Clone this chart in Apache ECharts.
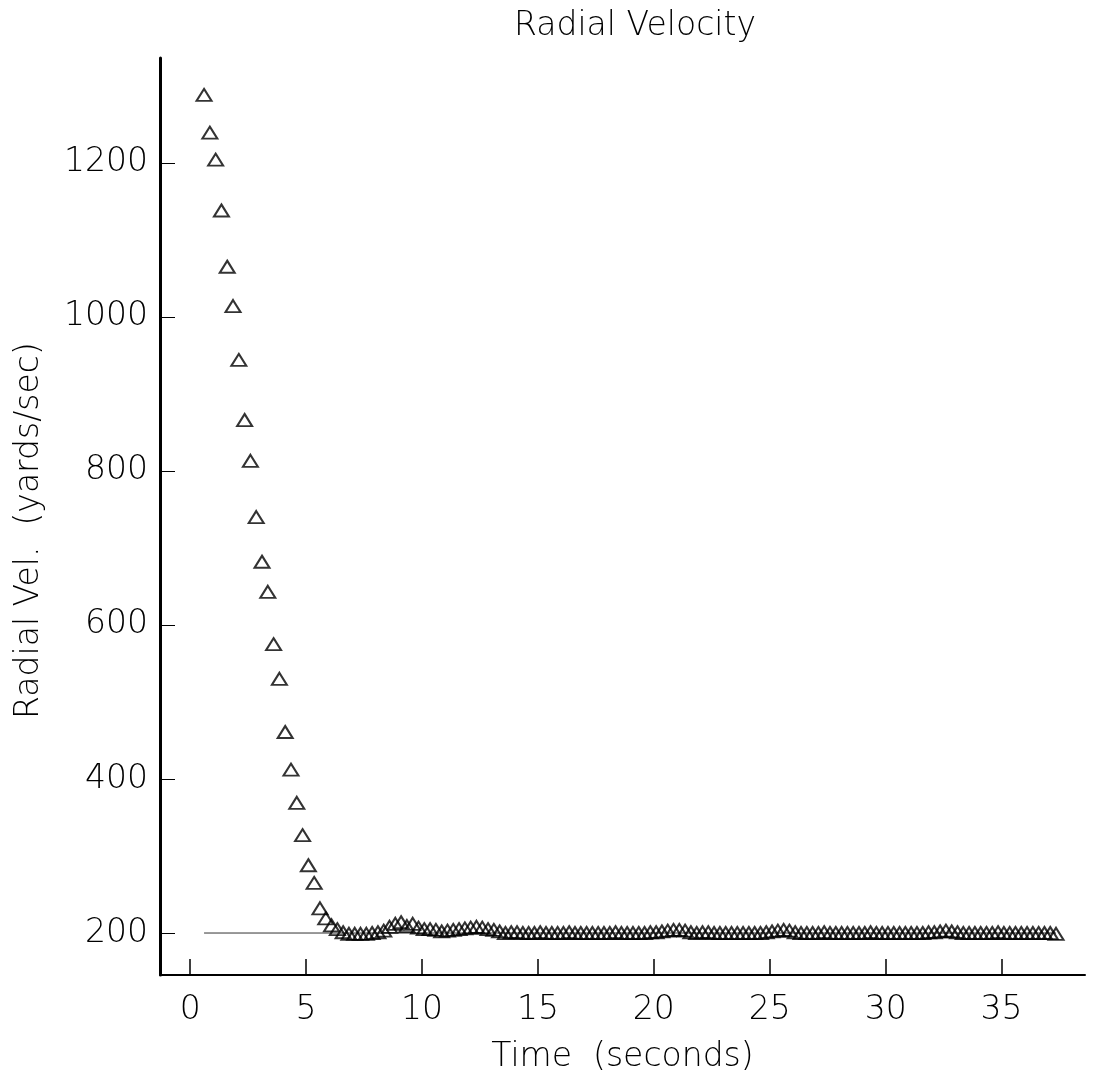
<!DOCTYPE html>
<html>
<head>
<meta charset="utf-8">
<script src="https://cdn.jsdelivr.net/npm/echarts@6/dist/echarts.min.js"></script>
<style>html,body{margin:0;padding:0;background:#fff}#c{width:1097px;height:1085px}</style>
</head>
<body>
<div id="c"></div>
<script>
// Time samples (seconds)
const time = [
  0.6,0.85,
  1.1,1.35,1.6,1.85, 2.1,2.35,2.6,2.85, 3.1,3.35,3.6,3.85, 4.1,4.35,4.6,4.85,
  5.1,5.35,5.6,5.85, 6.1,6.35,6.6,6.85, 7.1,7.35,7.6,7.85, 8.1,8.35,8.6,8.85,
  9.1,9.35,9.6,9.85, 10.1,10.35,10.6,10.85, 11.1,11.35,11.6,11.85, 12.1,12.35,12.6,12.85,
  13.1,13.35,13.6,13.85, 14.1,14.35,14.6,14.85, 15.1,15.35,15.6,15.85, 16.1,16.35,16.6,16.85,
  17.1,17.35,17.6,17.85, 18.1,18.35,18.6,18.85, 19.1,19.35,19.6,19.85, 20.1,20.35,20.6,20.85,
  21.1,21.35,21.6,21.85, 22.1,22.35,22.6,22.85, 23.1,23.35,23.6,23.85, 24.1,24.35,24.6,24.85,
  25.1,25.35,25.6,25.85, 26.1,26.35,26.6,26.85, 27.1,27.35,27.6,27.85, 28.1,28.35,28.6,28.85,
  29.1,29.35,29.6,29.85, 30.1,30.35,30.6,30.85, 31.1,31.35,31.6,31.85, 32.1,32.35,32.6,32.85,
  33.1,33.35,33.6,33.85, 34.1,34.35,34.6,34.85, 35.1,35.35,35.6,35.85, 36.1,36.35,36.6,36.85,
  37.1,37.35
];
// Radial velocity (yards/sec)
const velocity = [
  1288,1239,1204,1138,1065,1014,944,866,813,740,682,643,575,530,461,412,369,327,288,265,232,219,210,205,201,
  199,199,199,199,200,
  201,203,208,212,214,209,212,207,205,205,204,
  202,203,204,205,206,207,208,207,205,204,202,200,201,201,200,
  200,200,201,200,200,200,200,201,200,200,200,200,200,200,200,201,200,200,200,200,200,201,201,
  202,203,204,204,203,
  201,200,201,201,200,200,200,200,200,200,200,200,200,201,
  202,203,204,203,201,
  200,200,200,200,201,200,200,200,200,200,200,200,201,200,200,200,200,200,200,200,200,200,201,
  201,202,203,202,201,
  200,200,200,200,200,200,201,200,200,200,200,200,200,200,200,200,199
];
const referenceVelocity = 200;
const xTicks = [0,5,10,15,20,25,30,35];
const yTicks = [200,400,600,800,1000,1200];
const titleText = 'Radial Velocity';
const xName = 'Time  (seconds)';
const yName = 'Radial Vel.  (yards/sec)';

const points = time.map((t, i) => [t, velocity[i]]);
const refLine = [[time[0], referenceVelocity], [time[time.length - 1], referenceVelocity]];

const FONT = '"DejaVu Sans"';
const TXT = {fontFamily: FONT, fontSize: 33, fontWeight: 200, color: '#000'};
const chart = echarts.init(document.getElementById('c'), null, {renderer: 'canvas'});
chart.setOption({
  backgroundColor: '#fff',
  animation: false,
  title: {
    text: titleText, left: 630, top: 5, textAlign: 'center',
    textStyle: Object.assign({}, TXT)
  },
  grid: {left: 160, right: 12, top: 58, bottom: 110, containLabel: false},
  xAxis: {
    type: 'value', min: -1.3, max: 38.6,
    name: xName, nameLocation: 'middle', nameGap: 66,
    nameTextStyle: Object.assign({}, TXT),
    axisLine: {show: true, onZero: false, lineStyle: {color: '#000', width: 2}},
    axisTick: {show: true, inside: true, length: 16, customValues: xTicks, lineStyle: {color: '#000', width: 1.5}},
    axisLabel: Object.assign({customValues: xTicks, margin: 19, formatter: v => String(v)}, TXT),
    splitLine: {show: false}
  },
  yAxis: {
    type: 'value', min: 145.5, max: 1336,
    name: yName, nameLocation: 'middle', nameGap: 114, nameRotate: 90,
    nameTextStyle: Object.assign({padding: [0, 28, 0, 0]}, TXT),
    axisLine: {show: true, onZero: false, lineStyle: {color: '#000', width: 3}},
    axisTick: {show: true, inside: true, length: 15, customValues: yTicks, lineStyle: {color: '#000', width: 1}},
    axisLabel: Object.assign({customValues: yTicks, margin: 12, formatter: v => String(v)}, TXT),
    splitLine: {show: false}
  },
  series: [
    {
      type: 'line', data: refLine, symbol: 'none', silent: true,
      lineStyle: {color: '#333', width: 1}, z: 1
    },
    {
      type: 'scatter', data: points, symbol: 'triangle', symbolSize: [15, 12],
      itemStyle: {color: 'rgba(0,0,0,0)', borderColor: '#000', borderWidth: 2}, z: 2
    }
  ]
});
</script>
</body>
</html>
